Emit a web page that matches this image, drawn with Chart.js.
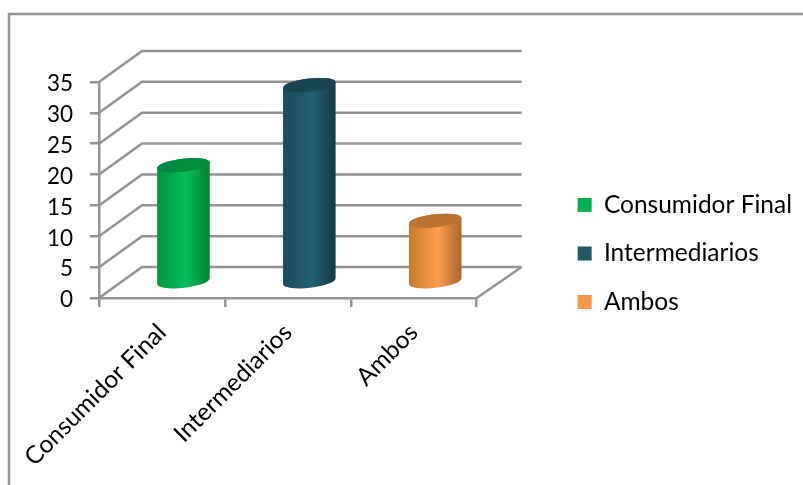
<!DOCTYPE html>
<html>
<head>
<meta charset="utf-8">
<style>
  html, body { margin: 0; padding: 0; background: #fff; }
  canvas { display: block; }
</style>
<script src="https://cdn.jsdelivr.net/npm/chart.js@4"></script>
</head>
<body>
<canvas id="myChart" width="803" height="485"></canvas>
<script>
const categories = ['Consumidor Final', 'Intermediarios', 'Ambos'];
const values = [19, 32, 10];
const colors = ['#00B050', '#215968', '#F79646'];
// cylinder shading: left edge, middle, right edge, lid
const leftColors = ['#019444', '#1A4A59', '#C9782F'];
const midColors = ['#05BE57', '#225F72', '#FF9D4B'];
const rightColors = ['#007F38', '#153B47', '#A8642B'];
const lidColors = ['#008C40', '#174652', '#BB7233'];

const gridColor = '#949494';
const lineW = 2.5;
const fontName = 'Lato, Carlito, sans-serif';
const depthX = 43;
const depthY = -31;

const fakeThreeD = {
  id: 'fakeThreeD',
  beforeDraw(chart) {
    // outer chart frame, runs off the right and bottom of the picture
    const ctx = chart.ctx;
    ctx.save();
    ctx.strokeStyle = gridColor;
    ctx.lineWidth = lineW;
    ctx.strokeRect(9, 14, 900, 600);
    ctx.restore();
  },
  beforeDatasetsDraw(chart) {
    // walls and floor, hung on the real scales
    const ctx = chart.ctx;
    const y = chart.scales.y;
    const a = chart.chartArea;
    ctx.save();
    ctx.strokeStyle = gridColor;
    ctx.lineWidth = lineW;
    ctx.beginPath();
    y.ticks.forEach((t) => {
      const py = y.getPixelForValue(t.value);
      ctx.moveTo(a.left, py);
      ctx.lineTo(a.left + depthX, py + depthY);
      ctx.lineTo(a.right + depthX + 2, py + depthY);
    });
    const y0 = y.getPixelForValue(0);
    ctx.moveTo(a.right, y0);
    ctx.lineTo(a.right + depthX + 2, y0 + depthY);
    ctx.stroke();
    ctx.restore();
  },
  beforeDatasetDraw(chart, args) {
    const ctx = chart.ctx;
    args.meta.data.forEach((bar, i) => {
      const cx = bar.x + depthX / 2;
      const top = bar.y + depthY / 2;
      const base = bar.base + depthY / 2;
      const rx = bar.width / 2;
      const ry = 6.5;
      const tilt = -0.115;
      const g = ctx.createLinearGradient(cx - rx, 0, cx + rx, 0);
      g.addColorStop(0, leftColors[i]);
      g.addColorStop(0.55, midColors[i]);
      g.addColorStop(1, rightColors[i]);
      ctx.save();
      ctx.fillStyle = g;
      ctx.beginPath();
      ctx.ellipse(cx, base, rx, ry, tilt, 0, Math.PI);
      ctx.ellipse(cx, top, rx, ry, tilt, Math.PI, Math.PI * 2);
      ctx.closePath();
      ctx.fill();
      ctx.fillStyle = lidColors[i];
      ctx.beginPath();
      ctx.ellipse(cx, top, rx, ry, tilt, 0, Math.PI * 2);
      ctx.fill();
      ctx.restore();
    });
    return false; // the cylinder replaces the flat bar
  },
};

new Chart(document.getElementById('myChart').getContext('2d'), {
  type: 'bar',
  data: {
    labels: categories,
    datasets: [
      {
        label: 'Serie',
        data: values,
        backgroundColor: colors,
        categoryPercentage: 1,
        barPercentage: 0.42,
      },
    ],
  },
  plugins: [fakeThreeD],
  options: {
    responsive: false,
    animation: false,
    layout: { padding: { left: 0, top: 22, right: 1, bottom: 0 } },
    plugins: {
      title: { display: false },
      tooltip: { enabled: false },
      legend: {
        position: 'right',
        maxWidth: 300,
        onClick: null,
        labels: {
          boxWidth: 14,
          boxHeight: 14,
          padding: 24,
          color: '#000',
          font: { family: fontName, size: 24.5 },
          generateLabels: () =>
            categories.map((c, i) => ({
              text: c,
              fillStyle: colors[i],
              strokeStyle: colors[i],
              lineWidth: 0,
              index: i,
            })),
        },
      },
    },
    scales: {
      x: {
        grid: { color: gridColor, lineWidth: lineW, drawOnChartArea: false, tickLength: 9 },
        border: { color: gridColor, width: lineW },
        ticks: {
          color: '#000',
          font: { family: fontName, size: 24.5 },
          minRotation: 45,
          maxRotation: 45,
          autoSkip: false,
          padding: 11,
        },
        afterFit: (s) => {
          s.height = 187;
          s.paddingLeft = 0;
          s.paddingRight = 0;
        },
      },
      y: {
        min: 0,
        max: 35,
        grid: { color: gridColor, lineWidth: lineW, drawOnChartArea: false, tickLength: 9 },
        border: { color: gridColor, width: lineW },
        ticks: {
          stepSize: 5,
          autoSkip: false,
          color: '#000',
          font: { family: fontName, size: 22.5 },
          padding: 17,
          labelOffset: 2,
        },
        afterFit: (s) => { s.width = 99; },
      },
      // empty axes, they only hold room for the depth and the legend position
      x2: {
        type: 'category',
        position: 'top',
        grid: { display: false },
        border: { display: false },
        ticks: { display: false },
        afterFit: (s) => { s.height = 60; },
      },
      y2: {
        type: 'linear',
        position: 'right',
        grid: { display: false },
        border: { display: false },
        ticks: { display: false },
        afterFit: (s) => { s.width = 77; },
      },
    },
  },
});
</script>
</body>
</html>
